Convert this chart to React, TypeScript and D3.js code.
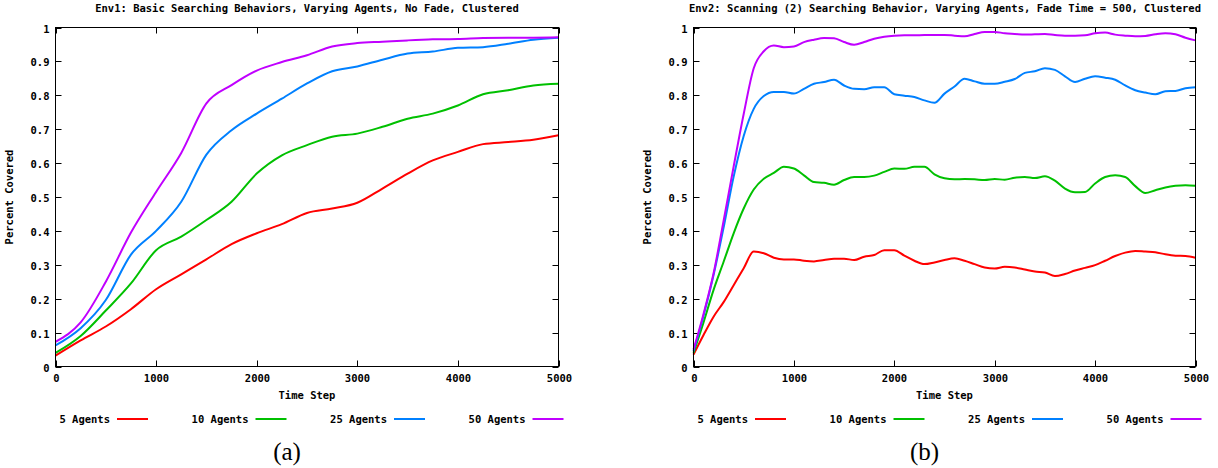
import React, { useRef, useEffect } from 'react';
import * as d3 from 'd3';

// time steps (x values)
const timeA = [0, 250, 500, 750, 1000, 1250, 1500, 1750, 2000, 2250, 2500, 2750, 3000, 3250, 3500, 3750, 4000, 4250, 4500, 4750, 5000];
const timeB = [
  0, 100, 200, 300, 400, 500, 600, 700, 800, 900, 1000,
  1100, 1200, 1300, 1400, 1500, 1600, 1700, 1800, 1900, 2000,
  2100, 2200, 2300, 2400, 2500, 2600, 2700, 2800, 2900, 3000,
  3100, 3200, 3300, 3400, 3500, 3600, 3700, 3800, 3900, 4000,
  4100, 4200, 4300, 4400, 4500, 4600, 4700, 4800, 4900, 5000,
];

// Env1 - no fade
const agents5A = [0.032, 0.077, 0.118, 0.169, 0.228, 0.272, 0.316, 0.361, 0.393, 0.420, 0.453, 0.466, 0.483, 0.525, 0.569, 0.608, 0.633, 0.656, 0.662, 0.669, 0.682];
const agents10A = [0.040, 0.090, 0.165, 0.245, 0.343, 0.383, 0.432, 0.486, 0.569, 0.623, 0.653, 0.678, 0.687, 0.707, 0.731, 0.746, 0.770, 0.803, 0.815, 0.829, 0.834];
const agents25A = [0.062, 0.113, 0.196, 0.330, 0.400, 0.486, 0.625, 0.697, 0.746, 0.790, 0.835, 0.871, 0.885, 0.905, 0.923, 0.929, 0.940, 0.942, 0.952, 0.964, 0.970];
const agents50A = [0.073, 0.130, 0.250, 0.395, 0.515, 0.630, 0.776, 0.830, 0.873, 0.898, 0.918, 0.944, 0.954, 0.958, 0.962, 0.965, 0.966, 0.969, 0.970, 0.970, 0.971];

// Env2 - fade time 500
const agents5B = [
  0.035, 0.093, 0.147, 0.190, 0.240, 0.290, 0.339, 0.334, 0.321, 0.316, 0.316,
  0.312, 0.310, 0.314, 0.318, 0.318, 0.314, 0.324, 0.329, 0.343, 0.343,
  0.327, 0.312, 0.302, 0.307, 0.314, 0.319, 0.312, 0.302, 0.292, 0.289,
  0.294, 0.292, 0.286, 0.280, 0.277, 0.267, 0.273, 0.283, 0.291, 0.299,
  0.312, 0.326, 0.336, 0.341, 0.339, 0.337, 0.331, 0.327, 0.326, 0.321,
];
const agents10B = [
  0.040, 0.130, 0.226, 0.309, 0.393, 0.466, 0.522, 0.554, 0.571, 0.589, 0.584,
  0.564, 0.544, 0.542, 0.536, 0.550, 0.559, 0.559, 0.563, 0.574, 0.584,
  0.583, 0.589, 0.589, 0.567, 0.555, 0.552, 0.553, 0.552, 0.550, 0.553,
  0.551, 0.557, 0.559, 0.556, 0.561, 0.548, 0.525, 0.514, 0.515, 0.540,
  0.559, 0.564, 0.559, 0.532, 0.512, 0.520, 0.528, 0.533, 0.535, 0.533,
];
const agents25B = [
  0.045, 0.150, 0.270, 0.410, 0.560, 0.680, 0.760, 0.798, 0.810, 0.810, 0.805,
  0.819, 0.834, 0.839, 0.846, 0.829, 0.819, 0.818, 0.824, 0.824, 0.803,
  0.799, 0.795, 0.785, 0.778, 0.805, 0.826, 0.849, 0.841, 0.834, 0.834,
  0.840, 0.848, 0.866, 0.871, 0.880, 0.875, 0.856, 0.839, 0.849, 0.856,
  0.852, 0.846, 0.829, 0.815, 0.808, 0.803, 0.812, 0.813, 0.821, 0.824,
];
const agents50B = [
  0.050, 0.155, 0.275, 0.430, 0.590, 0.745, 0.880, 0.930, 0.947, 0.942, 0.944,
  0.957, 0.964, 0.969, 0.968, 0.957, 0.949, 0.957, 0.967, 0.973, 0.976,
  0.977, 0.977, 0.978, 0.978, 0.978, 0.976, 0.974, 0.981, 0.987, 0.987,
  0.983, 0.981, 0.979, 0.980, 0.981, 0.978, 0.976, 0.976, 0.977, 0.983,
  0.985, 0.979, 0.976, 0.974, 0.975, 0.980, 0.983, 0.980, 0.970, 0.962,
];

const seriesNames = ['5 Agents', '10 Agents', '25 Agents', '50 Agents'];
const xTicks = [0, 1000, 2000, 3000, 4000, 5000];
const yTicks = [0, 0.1, 0.2, 0.3, 0.4, 0.5, 0.6, 0.7, 0.8, 0.9, 1];
const colors = ['#ff0000', '#00c000', '#0080ff', '#c000ff'];

const titleA = 'Env1: Basic Searching Behaviors, Varying Agents, No Fade, Clustered';
const titleB = 'Env2: Scanning (2) Searching Behavior, Varying Agents, Fade Time = 500, Clustered';

const font = "'DejaVu Sans Mono', monospace";

type PanelSpec = {
  left: number;
  right: number;
  title: string;
  titleX: number;
  caption: string;
  legendStart: number;
  times: number[];
  series: number[][];
};

const panels: PanelSpec[] = [
  { left: 55.5, right: 558.5, title: titleA, titleX: 307, caption: '(a)', legendStart: 117, times: timeA, series: [agents5A, agents10A, agents25A, agents50A] },
  { left: 693.5, right: 1195.5, title: titleB, titleX: 945, caption: '(b)', legendStart: 755, times: timeB, series: [agents5B, agents10B, agents25B, agents50B] },
];

const App = () => {
  const svgRef = useRef<SVGSVGElement>(null);

  useEffect(() => {
    const svg = d3.select(svgRef.current);
    svg.selectAll('*').remove();

    const top = 27.5;
    const bottom = 366.5;

    panels.forEach(p => {
      const g = svg.append('g');
      const x = d3.scaleLinear().domain([0, 5000]).range([p.left, p.right]);
      const y = d3.scaleLinear().domain([0, 1]).range([bottom, top]);

      // title
      g.append('text')
        .attr('x', p.titleX).attr('y', 12)
        .attr('text-anchor', 'middle')
        .style('font-family', font).style('font-size', '10.5px').style('font-weight', 'bold')
        .text(p.title);

      // ticks (inward, mirrored)
      yTicks.forEach(t => {
        const yy = Math.round(y(t)) + 0.5;
        g.append('line').attr('x1', p.left).attr('x2', p.left + 6).attr('y1', yy).attr('y2', yy).attr('stroke', '#000');
        g.append('line').attr('x1', p.right - 6).attr('x2', p.right).attr('y1', yy).attr('y2', yy).attr('stroke', '#000');
        g.append('text')
          .attr('x', p.left - 6).attr('y', yy + 4)
          .attr('text-anchor', 'end')
          .style('font-family', font).style('font-size', '10.5px').style('font-weight', 'bold')
          .text(t === 0 ? '0' : t === 1 ? '1' : t.toFixed(1));
      });
      xTicks.forEach(t => {
        const xx = Math.round(x(t)) + 0.5;
        g.append('line').attr('x1', xx).attr('x2', xx).attr('y1', bottom).attr('y2', bottom - 6).attr('stroke', '#000');
        g.append('line').attr('x1', xx).attr('x2', xx).attr('y1', top).attr('y2', top + 6).attr('stroke', '#000');
        g.append('text')
          .attr('x', xx).attr('y', 382)
          .attr('text-anchor', 'middle')
          .style('font-family', font).style('font-size', '10.5px').style('font-weight', 'bold')
          .text(String(t));
      });

      // data lines
      const line = d3.line<number>()
        .x((_, i) => x(p.times[i]))
        .y(d => y(d))
        .curve(d3.curveMonotoneX);
      p.series.forEach((s, i) => {
        g.append('path')
          .attr('d', line(s))
          .attr('fill', 'none')
          .attr('stroke', colors[i])
          .attr('stroke-width', 2)
          .attr('stroke-linejoin', 'round');
      });

      // frame
      g.append('rect')
        .attr('x', p.left).attr('y', top)
        .attr('width', p.right - p.left).attr('height', bottom - top)
        .attr('fill', 'none').attr('stroke', '#000');

      // axis labels
      g.append('text')
        .attr('x', (p.left + p.right) / 2).attr('y', 399)
        .attr('text-anchor', 'middle')
        .style('font-family', font).style('font-size', '10.5px').style('font-weight', 'bold')
        .text('Time Step');
      const ylx = p.left - 43;
      g.append('text')
        .attr('transform', `translate(${ylx},${(top + bottom) / 2}) rotate(-90)`)
        .attr('text-anchor', 'middle')
        .style('font-family', font).style('font-size', '10.5px').style('font-weight', 'bold')
        .text('Percent Covered');

      // legend
      seriesNames.forEach((name, i) => {
        const lx = p.legendStart + i * 138.5;
        g.append('text')
          .attr('x', lx - 7).attr('y', 423)
          .attr('text-anchor', 'end')
          .style('font-family', font).style('font-size', '10.5px').style('font-weight', 'bold')
          .text(name);
        g.append('line')
          .attr('x1', lx).attr('x2', lx + 31).attr('y1', 419).attr('y2', 419)
          .attr('stroke', colors[i]).attr('stroke-width', 2);
      });

      // caption
      g.append('text')
        .attr('x', (p.left + p.right) / 2 - 20).attr('y', 460)
        .attr('text-anchor', 'middle')
        .style('font-family', "'Liberation Serif', serif").style('font-size', '25px')
        .text(p.caption);
    });
  }, []);

  return (
    <svg ref={svgRef} width={1218} height={468}
      style={{ position: 'absolute', left: 0, top: 0, background: '#fff' }} />
  );
};

export default App;
